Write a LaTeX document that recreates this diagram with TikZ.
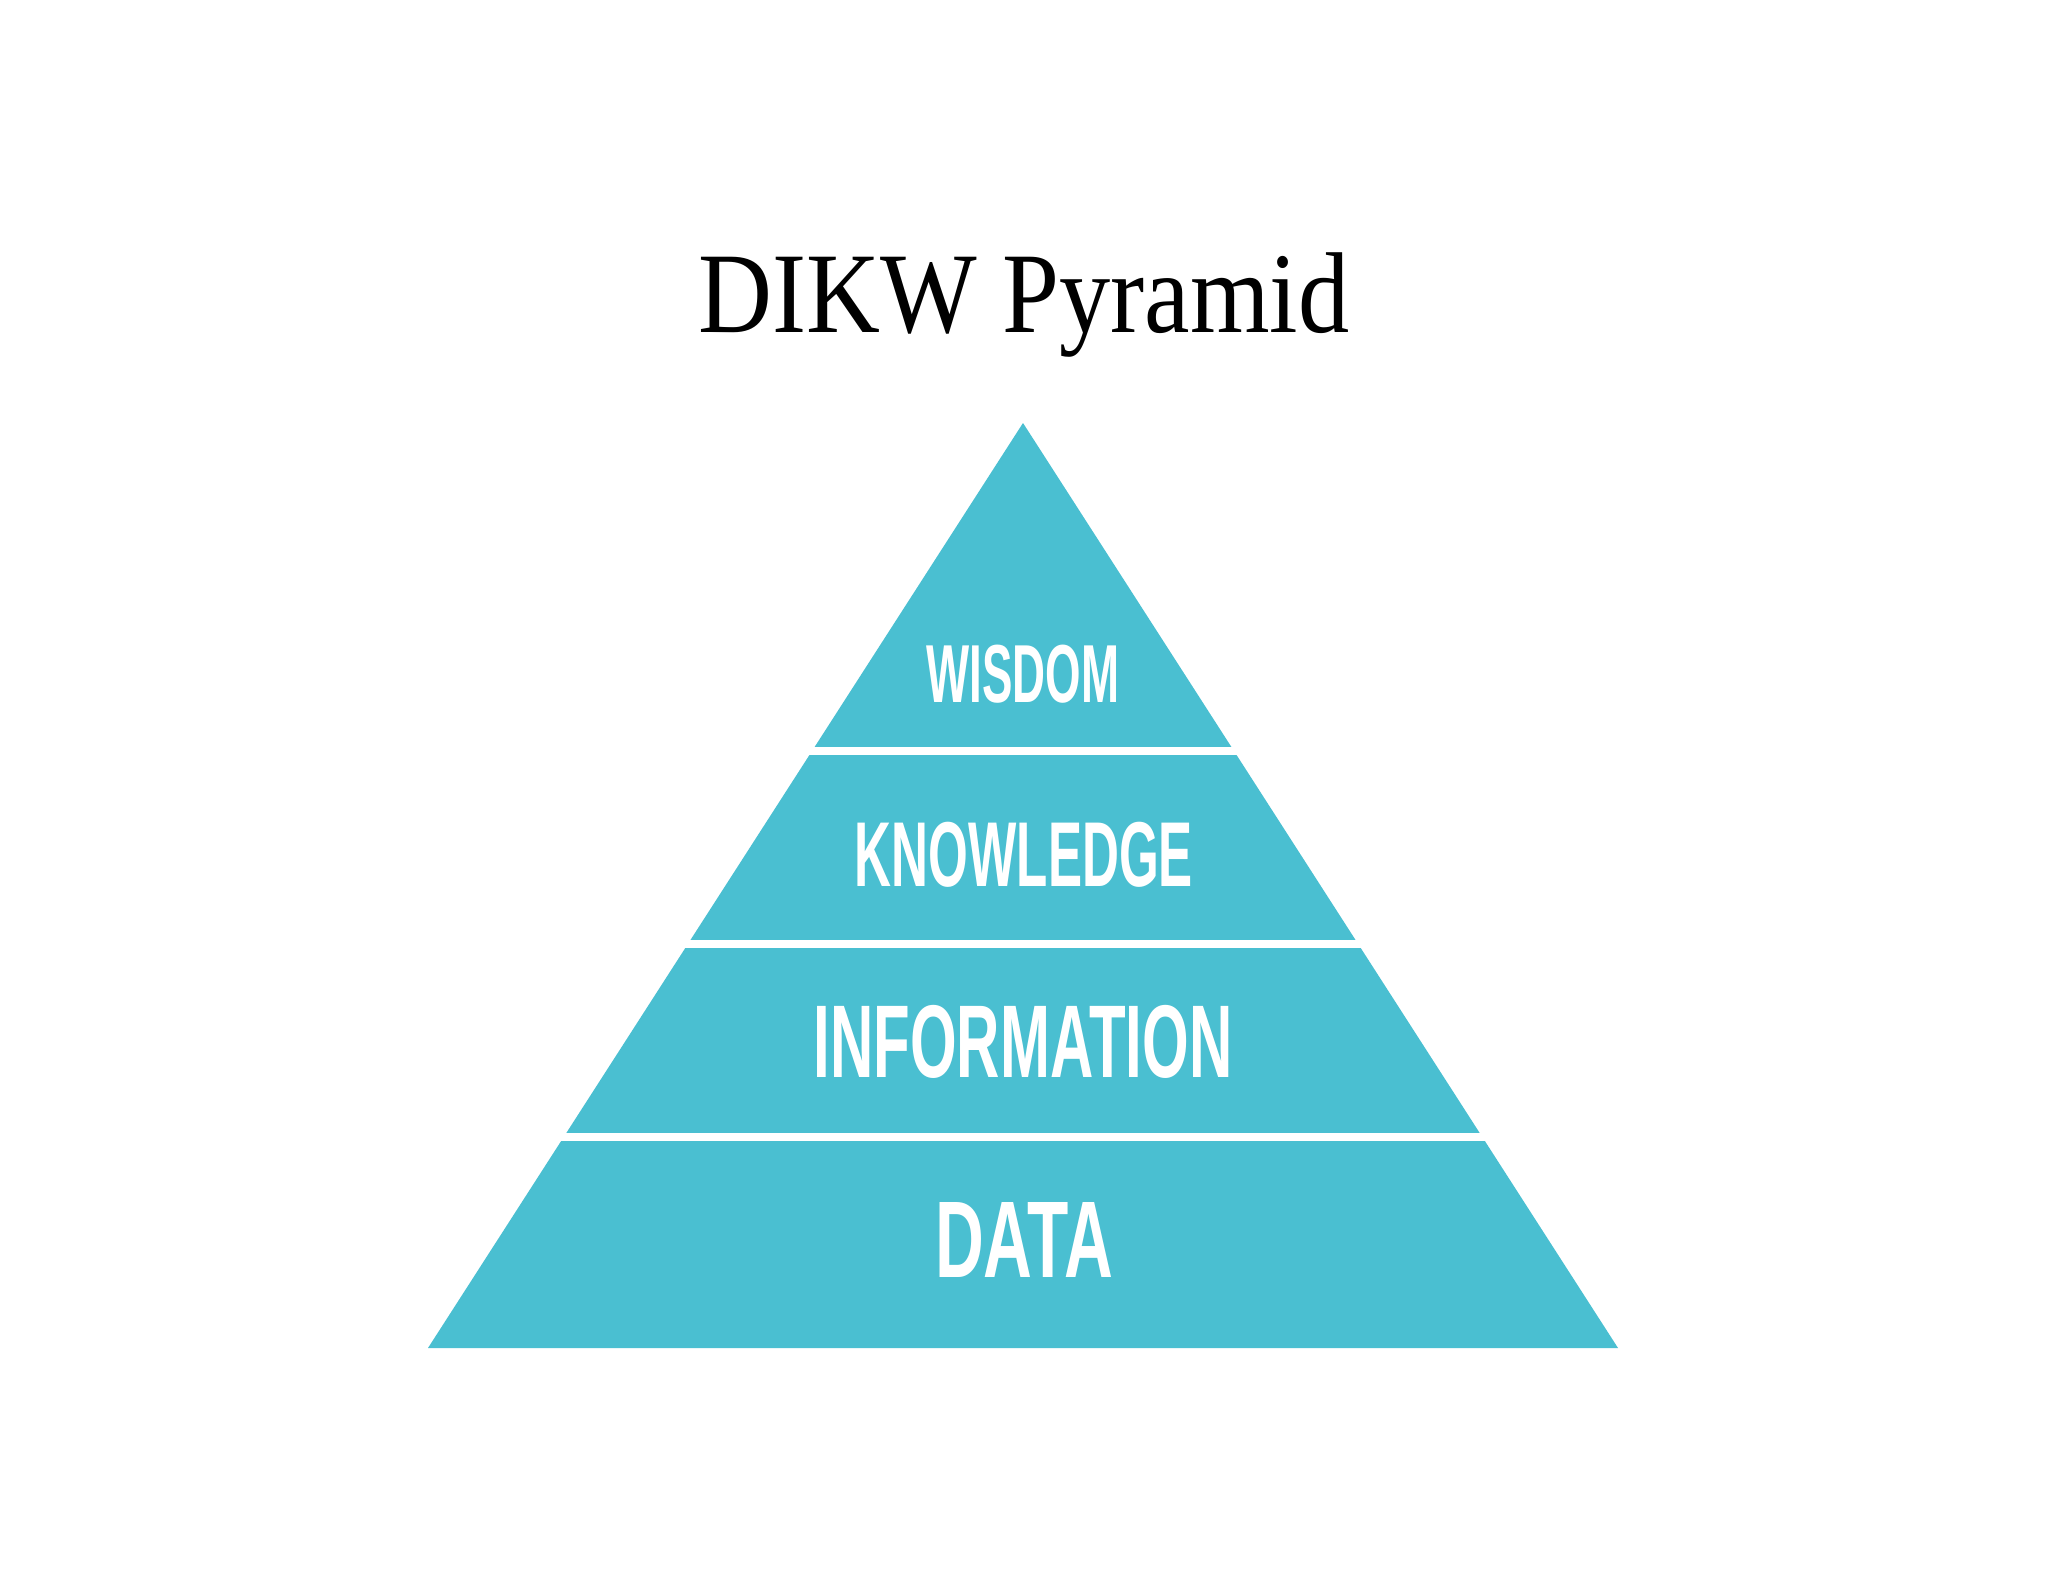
\documentclass[tikz,border=0pt]{standalone}
\usepackage{fontspec}
\setmainfont{Liberation Serif}
\newfontfamily\titlefont{Liberation Serif}[FakeStretch=0.89]
\newfontfamily\bandfont{Liberation Sans}[FakeStretch=0.555]
\newfontfamily\infofont{Liberation Sans}[FakeStretch=0.58]
\newfontfamily\datafont{Liberation Sans}[FakeStretch=0.62]
\usetikzlibrary{calc}
\definecolor{dikw}{HTML}{4ABFD1}

\begin{document}
\begin{tikzpicture}[x=0.01cm,y=-0.01cm,
  band/.style={text=white, inner sep=0pt, anchor=base},
  gap/.style={draw=white, line width=0.08cm, shorten <=-0.1cm, shorten >=-0.1cm}]
\useasboundingbox (0,0) rectangle (2048,1582);
\fill[white] (0,0) rectangle (2048,1582);
\node [inner sep=0pt, anchor=base, font=\titlefont\fontsize{32.7}{36}\selectfont] (title) at (1024,333) {DIKW Pyramid};
% pyramid corners
\coordinate (top) at (1023,423);
\coordinate (bl) at (428,1348);
\coordinate (br) at (1618,1348);
\fill[dikw] (top) -- (bl) -- (br) -- cycle;
% white gaps between the bands
\draw[gap] ($(top)!0.3546!(bl)$) -- ($(top)!0.3546!(br)$);
\draw[gap] ($(top)!0.5632!(bl)$) -- ($(top)!0.5632!(br)$);
\draw[gap] ($(top)!0.7724!(bl)$) -- ($(top)!0.7724!(br)$);
\node [band, font=\bandfont\bfseries\fontsize{23.4}{26}\selectfont] (wisdom) at (1023,702) {WISDOM};
\node [band, font=\bandfont\bfseries\fontsize{26.2}{29}\selectfont] (knowledge) at (1024,886) {KNOWLEDGE};
\node [band, font=\infofont\bfseries\fontsize{29.4}{32}\selectfont] (information) at (1023,1077) {INFORMATION};
\node [band, font=\datafont\bfseries\fontsize{31.0}{34}\selectfont] (data) at (1024,1277) {DATA};
\end{tikzpicture}
\end{document}
